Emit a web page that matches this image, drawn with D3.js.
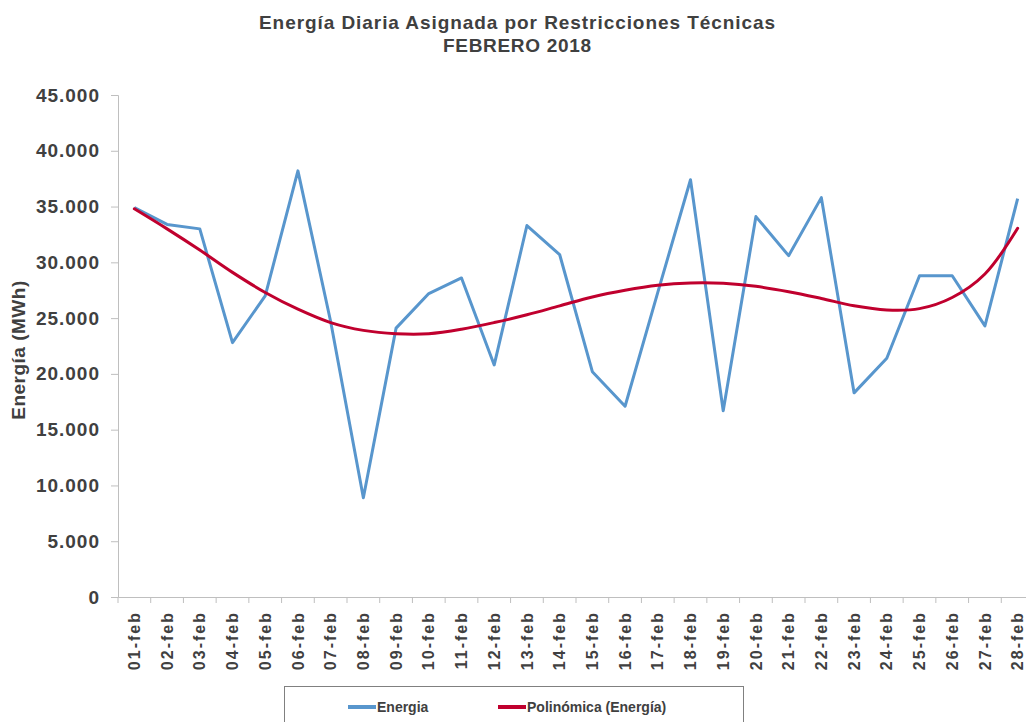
<!DOCTYPE html>
<html>
<head>
<meta charset="utf-8">
<script src="https://cdn.jsdelivr.net/npm/d3@7"></script>
<style>
  body { margin: 0; background: #fff; }
  text { font-family: "Liberation Sans", Arial, sans-serif; }
</style>
</head>
<body>
<div id="container"></div>
<script>
let days = ["01-feb","02-feb","03-feb","04-feb","05-feb","06-feb","07-feb","08-feb","09-feb","10-feb",
            "11-feb","12-feb","13-feb","14-feb","15-feb","16-feb","17-feb","18-feb","19-feb","20-feb",
            "21-feb","22-feb","23-feb","24-feb","25-feb","26-feb","27-feb","28-feb"];

let energia = [34900, 33400, 33000, 22800, 27000, 38200, 24700, 8900, 24100, 27200,
               28600, 20800, 33300, 30700, 20200, 17100, 27300, 37400, 16700, 34100,
               30600, 35800, 18300, 21400, 28800, 28800, 24300, 35700];

let polinomica = [34800, 33000, 31100, 29100, 27300, 25800, 24600, 23900, 23600, 23600,
                  24000, 24600, 25300, 26100, 26900, 27500, 27950, 28150, 28120, 27850,
                  27370, 26760, 26100, 25730, 25850, 26850, 28960, 33050];

let yTicks = [0, 5000, 10000, 15000, 20000, 25000, 30000, 35000, 40000, 45000];

let w = 1026;
let h = 722;
let textColor = "#404040";
let axisColor = "#bfbfbf";

let viz = d3.select("#container")
  .append("svg")
    .attr("width", w)
    .attr("height", h)
    .style("background-color", "white");

// titles
viz.append("text")
    .text("Energía Diaria Asignada por Restricciones Técnicas")
    .attr("x", 517).attr("y", 29)
    .attr("text-anchor", "middle")
    .attr("textLength", 516)
    .attr("lengthAdjust", "spacing")
    .attr("fill", textColor)
    .style("font-weight", "bold")
    .style("font-size", "19px");

viz.append("text")
    .text("FEBRERO 2018")
    .attr("x", 517).attr("y", 52)
    .attr("text-anchor", "middle")
    .attr("textLength", 148)
    .attr("lengthAdjust", "spacing")
    .attr("fill", textColor)
    .style("font-weight", "bold")
    .style("font-size", "19px");

let xScale = d3.scaleBand().domain(days).range([118, 1034]);
let yScale = d3.scaleLinear().domain([0, 45000]).range([597, 95]);

function xPos(d, i) { return xScale(days[i]) + xScale.bandwidth() / 2; }

// y axis
let yAxis = d3.axisLeft(yScale)
    .tickValues(yTicks)
    .tickSize(7)
    .tickPadding(11)
    .tickFormat(d => d3.format(",")(d).replace(/,/g, "."));

let yg = viz.append("g")
    .attr("transform", "translate(118,0)")
    .call(yAxis);
yg.select(".domain").attr("stroke", axisColor);
yg.selectAll(".tick line").attr("stroke", axisColor);
yg.selectAll(".tick text")
    .attr("fill", textColor)
    .style("font-weight", "bold")
    .style("font-size", "19px")
    .style("letter-spacing", "1px")
    .style("font-family", "Liberation Sans, Arial, sans-serif");

// x axis
let xAxis = d3.axisBottom(xScale).tickSize(0).tickPadding(0);
let xg = viz.append("g")
    .attr("transform", "translate(0,597)")
    .call(xAxis);
xg.select(".domain").attr("stroke", axisColor);
xg.selectAll(".tick text")
    .attr("fill", textColor)
    .attr("transform", "rotate(-90)")
    .attr("text-anchor", "end")
    .attr("x", -14)
    .attr("y", 0)
    .attr("dy", "0.35em")
    .style("font-weight", "bold")
    .style("font-size", "16px")
    .style("letter-spacing", "2px")
    .style("font-family", "Liberation Sans, Arial, sans-serif");

// x ticks at band boundaries
let bounds = days.map(d => xScale(d));
xg.selectAll(".bound").data(bounds).enter()
  .append("line")
    .attr("x1", d => d).attr("x2", d => d)
    .attr("y1", 0).attr("y2", 6)
    .attr("stroke", axisColor);

// y axis title
viz.append("text")
    .text("Energía (MWh)")
    .attr("transform", "translate(25,350) rotate(-90)")
    .attr("text-anchor", "middle")
    .attr("fill", textColor)
    .style("font-weight", "bold")
    .style("font-size", "19px")
    .style("letter-spacing", "0.5px");

// lines
let lineStraight = d3.line()
    .x((d, i) => xPos(d, i))
    .y(d => yScale(d));

let lineSmooth = d3.line()
    .x((d, i) => xPos(d, i))
    .y(d => yScale(d))
    .curve(d3.curveCatmullRom.alpha(0.5));

viz.append("path")
    .datum(energia)
    .attr("d", lineStraight)
    .attr("fill", "none")
    .attr("stroke", "#5896cd")
    .attr("stroke-width", 3)
    .attr("stroke-linejoin", "round");

viz.append("path")
    .datum(polinomica)
    .attr("d", lineSmooth)
    .attr("fill", "none")
    .attr("stroke", "#c0002e")
    .attr("stroke-width", 3)
    .attr("stroke-linecap", "round");

// legend
let legend = viz.append("g");
legend.append("rect")
    .attr("x", 284.5).attr("y", 686.5)
    .attr("width", 459).attr("height", 60)
    .attr("fill", "white")
    .attr("stroke", "#808080")
    .attr("stroke-width", 1);

let legendItems = [
  { name: "Energia", color: "#5896cd", x: 348 },
  { name: "Polinómica (Energía)", color: "#c0002e", x: 498 }
];

legendItems.forEach(function(item) {
  legend.append("line")
      .attr("x1", item.x).attr("x2", item.x + 28)
      .attr("y1", 707).attr("y2", 707)
      .attr("stroke", item.color)
      .attr("stroke-width", 4);
  legend.append("text")
      .text(item.name)
      .attr("x", item.x + 29).attr("y", 712)
      .attr("fill", textColor)
      .style("font-weight", "bold")
      .style("font-size", "14px");
});
</script>
</body>
</html>
